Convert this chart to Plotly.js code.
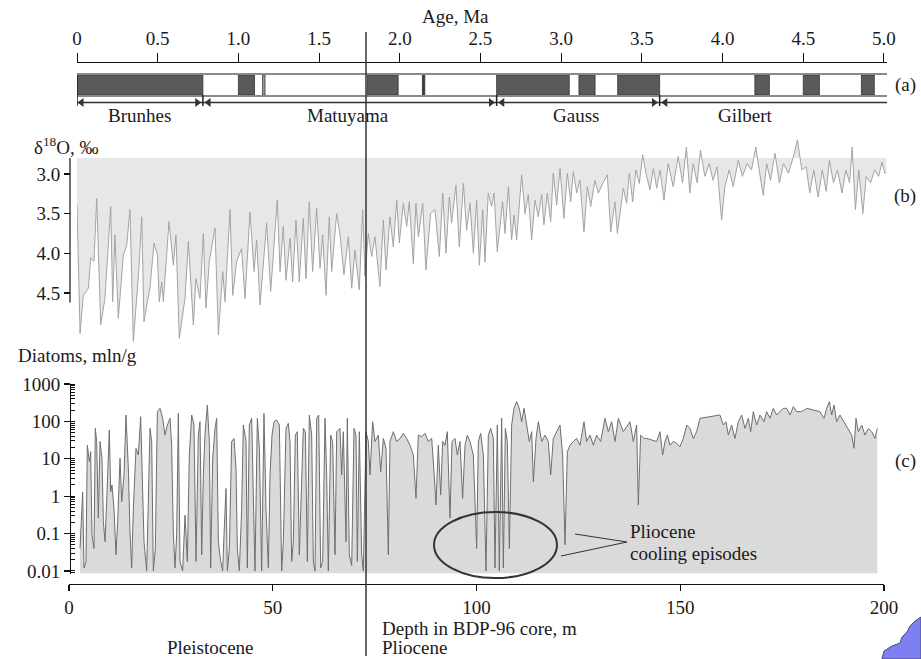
<!DOCTYPE html>
<html>
<head>
<meta charset="utf-8">
<script src="https://cdn.plot.ly/plotly-3.0.1.min.js"></script>
<style>html,body{margin:0;padding:0;background:#fff;}#chart{width:921px;height:659px;}</style>
</head>
<body>
<div id="chart"></div>
<script>
// ---------- Data ----------
// (a) magnetic polarity: normal-polarity intervals, Ma
const chronStart = [0.00, 1.00, 1.150, 1.80, 2.140, 2.60, 3.11, 3.35, 4.20, 4.50, 4.86];
const chronEnd   = [0.78, 1.10, 1.165, 1.99, 2.155, 3.05, 3.21, 3.61, 4.29, 4.60, 4.94];
const chronShade = ['#5a5a5a','#5a5a5a','#a0a0a0','#5a5a5a','#3a3a3a','#5a5a5a','#5a5a5a','#5a5a5a','#5a5a5a','#5a5a5a','#5a5a5a'];
const epochNames = ['Brunhes','Matuyama','Gauss','Gilbert'];
const epochStart = [0.00, 0.78, 2.60, 3.61];
const epochEnd   = [0.78, 2.60, 3.61, 5.02];
const epochLabelAge = [0.39, 1.68, 3.09, 4.14];

// (b) benthic δ18O, ‰ vs age, Ma
const ageO = [0.000,0.019,0.039,0.070,0.085,0.105,0.122,0.147,0.173,0.209,0.221,0.235,0.256,0.287,0.308,0.328,0.349,0.370,0.384,0.401,
0.415,0.436,0.452,0.477,0.498,0.510,0.525,0.535,0.570,0.597,0.613,0.634,0.669,0.690,0.721,0.737,0.762,0.783,0.799,0.820,
0.855,0.876,0.903,0.917,0.948,0.965,0.989,1.020,1.041,1.072,1.097,1.113,1.134,1.175,1.200,1.241,1.258,1.278,1.295,1.320,
1.336,1.357,1.377,1.402,1.419,1.439,1.460,1.485,1.506,1.522,1.543,1.563,1.578,1.609,1.630,1.654,1.681,1.702,1.722,1.749,
1.770,1.784,1.805,1.826,1.846,1.877,1.898,1.915,1.939,1.960,1.981,1.997,2.022,2.043,2.059,2.084,2.100,2.115,2.142,2.162,
2.191,2.218,2.245,2.266,2.286,2.307,2.321,2.348,2.369,2.394,2.414,2.435,2.456,2.476,2.493,2.514,2.528,2.548,2.569,2.584,
2.604,2.637,2.652,2.673,2.693,2.708,2.724,2.755,2.776,2.796,2.817,2.838,2.858,2.879,2.893,2.914,2.935,2.951,2.972,2.993,
3.017,3.038,3.059,3.075,3.096,3.116,3.141,3.162,3.183,3.209,3.230,3.257,3.286,3.307,3.333,3.348,3.385,3.406,3.422,3.443,
3.463,3.484,3.505,3.525,3.550,3.571,3.592,3.612,3.637,3.663,3.694,3.725,3.752,3.776,3.797,3.818,3.842,3.863,3.890,3.917,
3.941,3.966,3.994,4.014,4.041,4.066,4.097,4.123,4.152,4.179,4.206,4.230,4.252,4.273,4.297,4.325,4.352,4.377,4.408,4.439,
4.464,4.491,4.518,4.540,4.565,4.592,4.618,4.642,4.662,4.687,4.712,4.740,4.764,4.787,4.803,4.823,4.844,4.869,4.890,4.917,
4.943,4.967,4.988,5.005,5.015];
const d18O = [3.39,5.01,4.53,4.44,4.06,4.10,3.31,4.90,4.57,3.41,4.61,3.77,4.82,4.02,3.90,3.45,5.11,4.48,4.19,3.54,
4.86,4.61,4.44,3.87,4.02,4.61,4.36,4.61,3.60,4.15,3.77,5.07,4.57,3.85,4.90,4.32,4.57,3.75,4.69,4.10,
3.68,5.03,4.23,4.61,3.45,4.53,4.10,3.94,4.57,3.48,4.23,3.83,4.65,3.62,4.48,3.33,4.23,3.66,4.34,3.81,
4.36,3.58,4.36,3.56,4.32,3.35,4.23,3.43,4.19,3.77,4.53,3.54,4.23,3.50,3.77,4.27,3.79,4.44,3.96,4.46,
3.45,4.29,3.75,4.04,3.79,4.42,3.58,4.21,3.54,3.92,3.33,3.87,3.37,3.66,3.35,4.13,3.37,3.79,3.37,4.21,
3.50,3.45,4.04,3.24,4.00,3.29,3.62,3.14,3.92,3.12,3.71,3.37,4.00,3.33,4.15,3.45,4.11,3.24,3.41,3.24,
3.98,3.35,3.75,3.16,3.83,3.52,3.83,3.01,3.50,3.26,3.83,3.33,3.54,3.26,3.64,3.24,3.60,2.99,3.39,2.93,
3.56,2.99,3.35,2.97,3.24,3.08,3.73,3.16,3.41,3.08,3.24,3.12,3.01,3.73,3.35,3.75,3.18,3.37,2.99,3.35,
2.95,3.12,2.76,2.99,3.20,2.93,3.18,2.95,3.33,2.87,3.16,2.78,3.11,2.66,3.24,2.87,3.11,2.70,3.03,2.87,
3.08,2.91,3.58,3.16,2.95,3.16,2.83,3.03,2.87,2.95,2.66,2.99,3.27,2.87,3.08,2.74,3.11,2.87,2.99,2.78,
2.57,2.95,2.91,3.24,2.95,3.29,2.95,3.22,2.83,3.11,2.95,3.24,2.95,3.11,2.66,3.45,2.95,3.50,3.03,3.11,
2.95,3.03,2.85,2.99,2.98];
const d18OBase = 2.8;

// (c) diatom abundance, mln/g vs depth in BDP-96 core, m
const depthD = [2.70,3.11,3.35,3.68,4.17,4.50,4.99,5.32,5.64,6.13,6.46,6.79,7.20,7.61,8.10,8.43,8.84,9.24,9.90,10.22,
10.55,11.04,11.53,11.94,12.52,12.93,13.50,13.99,14.56,14.97,15.38,15.79,16.44,17.01,17.59,18.08,18.41,19.06,19.47,19.88,
20.29,20.70,21.19,21.68,22.33,22.99,23.56,24.13,24.79,25.19,25.60,26.01,26.42,26.83,27.24,27.89,28.47,29.04,29.53,30.10,
30.67,31.17,31.74,32.15,32.56,32.97,33.37,33.95,34.44,34.76,35.26,35.83,36.24,36.65,37.22,37.71,38.04,38.53,38.86,39.35,
39.92,40.49,40.98,41.31,41.80,42.37,42.78,43.44,43.76,44.25,44.83,45.24,45.64,46.22,46.71,47.28,47.85,48.34,48.92,49.33,
49.82,50.31,50.96,51.62,52.19,52.60,53.25,53.82,54.23,54.64,55.05,55.54,56.03,56.52,57.01,57.51,58.00,58.49,58.98,59.55,
59.96,60.37,60.78,61.27,61.76,62.25,62.82,63.23,63.64,64.21,64.70,65.28,65.69,66.50,66.91,67.32,67.98,68.30,68.79,69.37,
69.94,70.43,70.76,71.25,71.82,72.23,72.88,73.46,73.86,74.52,75.09,75.91,76.48,77.14,77.79,78.36,78.77,79.59,80.41,81.23,
82.04,82.86,83.68,84.50,85.15,85.73,86.54,87.36,88.18,89.00,89.57,90.06,90.63,91.21,91.70,92.27,92.84,93.50,93.99,94.72,
95.30,95.95,96.60,97.18,97.75,98.40,99.22,100.04,100.45,101.02,101.68,102.33,102.90,103.48,104.13,104.54,105.11,105.60,106.18,106.59,
107.08,107.57,108.06,108.63,109.20,109.86,110.51,111.08,111.66,112.31,112.96,113.54,113.95,114.60,115.17,115.99,116.81,117.63,118.20,118.85,
119.67,120.49,121.14,121.72,122.29,122.94,123.76,124.58,125.40,126.38,127.03,127.85,128.67,129.49,130.47,131.53,132.35,133.17,133.99,134.81,
136.03,137.26,137.66,138.48,139.30,139.71,140.28,141.10,141.75,142.98,144.21,145.03,145.68,146.25,146.83,147.48,148.30,149.12,149.93,150.75,
151.57,152.39,153.21,154.02,154.84,159.75,160.57,161.22,161.80,162.61,163.43,164.25,165.07,165.89,166.70,167.28,167.93,168.75,169.57,170.55,
171.20,172.02,172.84,173.66,174.47,175.29,176.11,176.93,177.75,178.56,179.79,181.02,184.29,185.27,185.93,186.58,187.16,187.73,188.38,189.20,
192.07,192.64,193.13,193.70,194.52,195.34,196.15,196.97,197.79,198.36];
const diatoms = [0.04,0.39,1.3,0.012,0.018,23,8.4,15.5,0.092,0.04,65,29,0.26,29,10.3,0.21,0.061,0.71,59,1.3,
2.0,0.47,0.027,0.21,10.3,0.71,3.7,148,5.6,0.11,0.012,0.47,19,12.6,134,1.3,0.061,0.01,2.0,65,
29,0.01,0.04,182,224,121,43,80,121,23,0.11,0.012,0.092,164,0.018,0.01,0.31,0.018,12.6,148,
80,0.018,43,98,0.027,3.7,43,274,29,0.012,10.3,65,121,0.061,0.018,0.01,0.092,1.6,0.01,0.04,
29,35,5.6,0.04,0.01,0.47,80,29,0.012,80,121,2.0,0.01,121,19,0.01,164,0.47,0.012,3.7,
43,98,109,80,0.01,0.061,65,89,29,0.018,0.061,43,53,0.027,0.71,65,53,0.018,148,43,
0.018,0.01,121,148,0.012,0.018,121,3.7,0.01,43,29,0.027,53,65,3.7,53,0.061,121,0.027,0.014,
65,43,0.018,53,0.027,0.01,53,29,3.7,98,29,43,4.5,35,19,0.027,29,53,29,35,
48,35,23,12.6,0.88,43,39,48,29,35,4.5,0.58,23,1.08,29,23,53,0.26,29,35,
12.6,29,0.88,23,43,29,12.6,0.04,29,48,12.6,0.01,43,65,35,0.012,80,0.01,121,0.012,
65,29,0.04,80,224,337,224,98,224,80,29,53,2.4,35,98,29,43,29,3.7,35,
53,80,12.6,0.05,15.5,23,29,35,23,98,29,43,23,43,29,121,53,98,29,121,
53,80,98,29,80,0.58,43,35,35,32,29,53,12.6,29,43,23,29,26,21,35,
80,65,35,53,121,148,80,98,43,80,35,98,148,65,121,53,182,80,148,98,
182,121,224,148,182,224,224,148,248,182,182,224,182,121,224,337,148,274,98,148,
43,19,121,53,80,43,65,53,35,65];
const diatomBase = 0.0085;

// Axis tick labels
const ageTickVals = [0,0.5,1,1.5,2,2.5,3,3.5,4,4.5,5];
const ageTickText = ['0','0.5','1.0','1.5','2.0','2.5','3.0','3.5','4.0','4.5','5.0'];
const oTickVals = [3,3.5,4,4.5];
const oTickText = ['3.0','3.5','4.0','4.5'];
const dTickVals = [0.01,0.1,1,10,100,1000];
const dTickText = ['0.01','0.1','1','10','100','1000'];
const depthTickVals = [0,50,100,150,200];

// ---------- Helpers (page geometry 921 x 659) ----------
const W = 921, H = 659;
const px = v => v / W;
const py = v => 1 - v / H;
const FONT = 'Liberation Serif';
const INK = '#1a1a1a';

// ---------- Traces ----------
const traces = [];
// (a) polarity bars
traces.push({
  type: 'bar', orientation: 'h', xaxis: 'x', yaxis: 'y',
  y: chronStart.map(() => 0),
  base: chronStart,
  x: chronStart.map((s, i) => chronEnd[i] - s),
  width: chronStart.map(() => 1),
  marker: {color: chronShade, line: {color: '#333', width: 0.8}},
  hoverinfo: 'skip', showlegend: false
});
// epoch extent arrows (line segments + arrowheads)
const segX = [], segY = [];
epochStart.forEach((s, i) => { segX.push(s, epochEnd[i], null); segY.push(0, 0, null); });
traces.push({type: 'scatter', mode: 'lines', xaxis: 'x', yaxis: 'y4', x: segX, y: segY,
  line: {color: '#333', width: 1.3}, hoverinfo: 'skip', showlegend: false});
const headX = [], headSym = [];
epochStart.forEach((s, i) => {
  headX.push(s + (i === 0 ? 0.028 : 0.035)); headSym.push('triangle-left');
  if (i < epochStart.length - 1) { headX.push(epochEnd[i] - 0.035); headSym.push('triangle-right'); }
});
traces.push({type: 'scatter', mode: 'markers', xaxis: 'x', yaxis: 'y4', x: headX, y: headX.map(() => 0),
  marker: {symbol: headSym, size: 8, color: '#333', line: {width: 0}}, cliponaxis: false, hoverinfo: 'skip', showlegend: false});
// (b) δ18O fill
traces.push({
  type: 'scatter', mode: 'lines', xaxis: 'x', yaxis: 'y2',
  x: [ageO[0], ageO[ageO.length - 1]], y: [d18OBase, d18OBase],
  line: {width: 0, color: 'rgba(0,0,0,0)'}, hoverinfo: 'skip', showlegend: false
});
traces.push({
  type: 'scatter', mode: 'lines', xaxis: 'x', yaxis: 'y2',
  x: ageO, y: d18O, fill: 'tonexty', fillcolor: '#e7e7e7',
  line: {color: '#a3a3a3', width: 1}, showlegend: false
});
// (c) diatoms fill
traces.push({
  type: 'scatter', mode: 'lines', xaxis: 'x2', yaxis: 'y3',
  x: [depthD[0], depthD[depthD.length - 1]], y: [diatomBase, diatomBase],
  line: {width: 0, color: 'rgba(0,0,0,0)'}, hoverinfo: 'skip', showlegend: false
});
traces.push({
  type: 'scatter', mode: 'lines', xaxis: 'x2', yaxis: 'y3',
  x: depthD, y: diatoms, fill: 'tonexty', fillcolor: '#dadada',
  line: {color: '#6e6e6e', width: 1}, showlegend: false
});

// ---------- Shapes ----------
const shapes = [];
[74, 96].forEach(yy => shapes.push({type: 'line', xref: 'x', yref: 'paper', x0: 0, x1: 5.02, y0: py(yy), y1: py(yy), line: {color: '#8a8a8a', width: 2}}));
epochStart.slice(1).forEach(a => shapes.push({type: 'line', xref: 'x', yref: 'paper', x0: a, x1: a, y0: py(95), y1: py(106), line: {color: '#222', width: 1.5}}));
shapes.push({type: 'line', xref: 'x', yref: 'paper', x0: 0, x1: 0, y0: py(75), y1: py(106), line: {color: '#222', width: 1.5}});
shapes.push({type: 'line', xref: 'paper', yref: 'paper', x0: px(366), x1: px(366), y0: py(32), y1: py(656), line: {color: '#333', width: 1.5}});
shapes.push({type: 'line', xref: 'paper', yref: 'y2', x0: px(70), x1: px(70), y0: 2.8, y1: 4.62, line: {color: '#111', width: 1.2}});
shapes.push({type: 'circle', xref: 'paper', yref: 'paper', x0: px(434), x1: px(557), y0: py(578), y1: py(512), line: {color: '#333', width: 2}});
shapes.push({type: 'line', xref: 'paper', yref: 'paper', x0: px(575), y0: py(534), x1: px(627), y1: py(542), line: {color: '#333', width: 1}});
shapes.push({type: 'line', xref: 'paper', yref: 'paper', x0: px(561), y0: py(556), x1: px(627), y1: py(542), line: {color: '#333', width: 1}});
shapes.push({type: 'path', xref: 'paper', yref: 'paper',
  path: `M ${px(882)} ${py(659)} L ${px(884)} ${py(651)} L ${px(892)} ${py(646)} L ${px(900)} ${py(643)} L ${px(902)} ${py(637)} L ${px(907)} ${py(632)} L ${px(910)} ${py(626)} L ${px(915)} ${py(621)} L ${px(921)} ${py(617)} L ${px(921)} ${py(659)} Z`,
  fillcolor: '#7d7ff2', line: {color: '#4b4b80', width: 1}});

// ---------- Annotations ----------
const ann = [];
const txt = (text, x, y, xanchor, size) => ({text, xref: 'paper', yref: 'paper', x: px(x), y: py(y), xanchor: xanchor || 'center', yanchor: 'middle', showarrow: false, font: {family: FONT, size: size || 19, color: INK}});
ann.push(txt('Age, Ma', 455, 17, 'center', 19));
ann.push(txt('(a)', 905, 85, 'center', 19));
ann.push(txt('(b)', 905, 196, 'center', 19));
ann.push(txt('(c)', 905, 461, 'center', 19));
ann.push(txt('δ<sup>18</sup>O, ‰', 32, 146, 'left', 19));
ann.push(txt('Diatoms, mln/g', 16, 355, 'left', 19));
ann.push(txt('Depth in BDP-96 core, m', 380, 628, 'left', 19));
ann.push(txt('Pliocene', 380, 647, 'left', 19));
ann.push(txt('Pleistocene', 210, 647, 'center', 19));
ann.push(txt('Pliocene', 628, 531, 'left', 19));
ann.push(txt('cooling episodes', 628, 553, 'left', 19));
epochNames.forEach((n, i) => ann.push({text: n, xref: 'x', yref: 'paper', x: epochLabelAge[i], y: py(115), xanchor: 'center', yanchor: 'middle', showarrow: false, font: {family: FONT, size: 19, color: INK}}));

// ---------- Layout ----------
const tickFont = {family: FONT, size: 19, color: INK};
const layout = {
  width: W, height: H,
  margin: {l: 0, r: 0, t: 0, b: 0},
  paper_bgcolor: '#fff', plot_bgcolor: 'rgba(0,0,0,0)',
  font: {family: FONT, color: INK},
  showlegend: false, barmode: 'overlay',
  xaxis: {domain: [px(77), px(887.2)], range: [0, 5.02], anchor: 'free', position: py(62), side: 'top',
    showline: true, linecolor: '#111', linewidth: 1, ticks: 'outside', ticklen: 9, tickwidth: 1, tickcolor: '#111',
    tickvals: ageTickVals, ticktext: ageTickText, tickfont: tickFont, showgrid: false, zeroline: false, fixedrange: true},
  yaxis: {domain: [py(95), py(75)], range: [-0.5, 0.5], anchor: 'x', visible: false, fixedrange: true},
  yaxis4: {domain: [py(108), py(97)], range: [-1, 1], anchor: 'x', visible: false, fixedrange: true},
  yaxis2: {domain: [py(356.5), py(134.3)], range: [5.3, 2.5], anchor: 'free', position: px(70),
    showline: false, ticks: 'outside', ticklen: 6, tickwidth: 1.2, tickcolor: '#111',
    tickvals: oTickVals, ticktext: oTickText, tickfont: tickFont, showgrid: false, zeroline: false, fixedrange: true},
  xaxis2: {domain: [px(69), px(884)], range: [0, 200], anchor: 'free', position: py(584),
    showline: true, linecolor: '#111', linewidth: 1.2, ticks: 'outside', ticklen: 6, tickwidth: 1.2, tickcolor: '#111',
    tickvals: depthTickVals, tickfont: tickFont, showgrid: false, zeroline: false, fixedrange: true},
  yaxis3: {type: 'log', domain: [py(573.6), py(384)], range: [Math.log10(diatomBase), 3], anchor: 'free', position: px(70),
    showline: true, linecolor: '#111', linewidth: 1.2, ticks: 'outside', ticklen: 6, tickwidth: 1.2, tickcolor: '#111',
    tickvals: dTickVals, ticktext: dTickText, tickfont: tickFont, showgrid: false, zeroline: false, fixedrange: true,
    minor: {dtick: 'D1', ticks: 'inside', ticklen: 4, tickwidth: 1, tickcolor: '#111', showgrid: false}},
  shapes: shapes,
  annotations: ann
};

Plotly.newPlot('chart', traces, layout, {staticPlot: true, displayModeBar: false});
</script>
</body>
</html>
